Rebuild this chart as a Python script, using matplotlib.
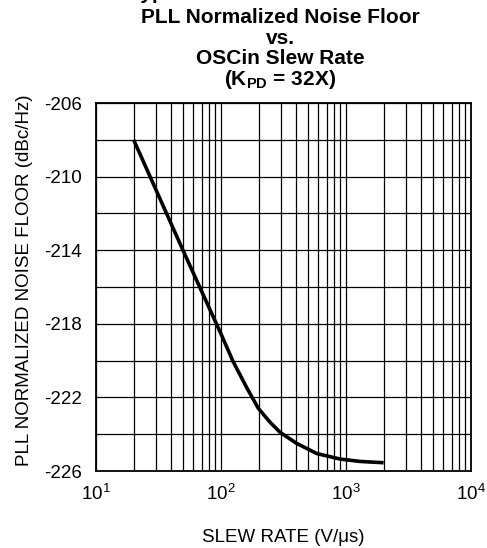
import matplotlib
matplotlib.use("Agg")
import matplotlib.pyplot as plt
import numpy as np

plt.rcParams['font.family'] = ['Liberation Sans', 'DejaVu Sans']
plt.rcParams['mathtext.fontset'] = 'custom'
plt.rcParams['mathtext.rm'] = 'Liberation Sans'
plt.rcParams['mathtext.bf'] = 'Liberation Sans:bold'

slew_rate = [20, 50, 100, 125, 160, 199, 247, 297, 403, 583, 895, 1294, 2000]
noise_floor = [-208.0, -214.05, -218.55, -220.05, -221.45, -222.6, -223.35,
               -223.9, -224.5, -225.05, -225.35, -225.48, -225.55]
y_ticks = [-206, -210, -214, -218, -222, -226]

fig = plt.figure(figsize=(4.87, 5.48), dpi=100)
ax = fig.add_axes([96/487, 1-471/548, (471-96)/487, (471-103)/548])

ax.plot(slew_rate, noise_floor, color='black', lw=2.6, solid_capstyle='butt',
        solid_joinstyle='round')
ax.set_xscale('log')
ax.set_xlim(10, 1e4)
ax.set_ylim(-226, -206)
ax.set_yticks(y_ticks)
ax.set_yticklabels([str(t) for t in y_ticks])
ax.set_yticks(np.arange(-226, -205, 2), minor=True)
ax.grid(True, which='both', color='black', lw=0.9)
ax.tick_params(which='both', length=0, labelsize=13.5, colors='black')
ax.tick_params(axis='y', pad=10)
ax.tick_params(axis='x', pad=9.5)
for s in ax.spines.values():
    s.set_linewidth(1.3)

ax.set_ylabel('PLL NORMALIZED NOISE FLOOR (dBc/Hz)', fontsize=13.5)
ax.yaxis.set_label_coords(-0.168, 0.519)
ax.set_xlabel('SLEW RATE (V/\u03bcs)', fontsize=13.5, labelpad=18)

fig.text(129/487, 1-(-1)/548, 'Typical Performance Characteristics', ha='left', va='baseline',
         fontsize=15, fontweight='bold')
title_lines = ['PLL Normalized Noise Floor', 'vs.', 'OSCin Slew Rate', r'(K$_{\mathbf{PD}}$ = 32X)']
for i, t in enumerate(title_lines):
    fig.text(280/487, 1-(23+20.7*i)/548, t, ha='center', va='baseline', fontsize=15, fontweight='bold')

fig.savefig('out.png', dpi=100)
